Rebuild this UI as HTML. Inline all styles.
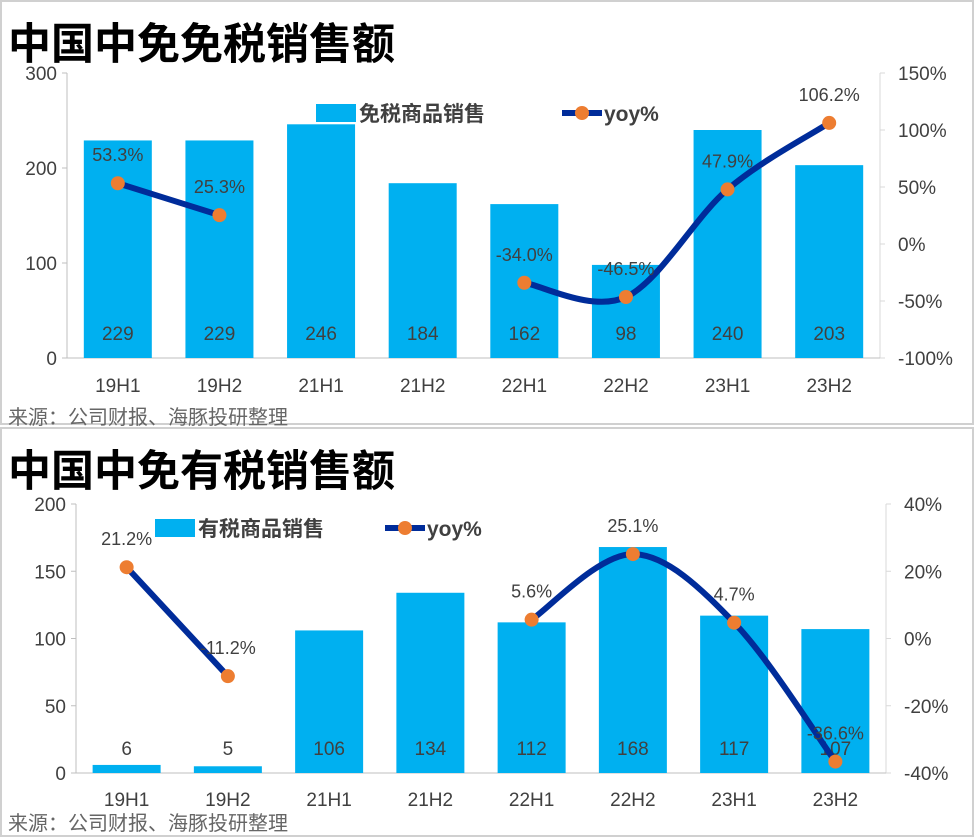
<!DOCTYPE html>
<html><head><meta charset="utf-8">
<style>
body{margin:0;background:#fff;}
svg{display:block;font-family:"Liberation Sans","Noto Sans CJK SC",sans-serif;}
</style></head>
<body>
<svg id="s" width="975" height="837" viewBox="0 0 975 837">
<rect x="1" y="1" width="972" height="423" fill="#fff" stroke="#d0d0d0" stroke-width="2"/>
<rect x="1" y="428" width="972" height="408" fill="#fff" stroke="#d0d0d0" stroke-width="2"/>
<text x="8" y="59" font-size="43" font-weight="bold" fill="#000">中国中免免税销售额</text>
<text x="8" y="486" font-size="43" font-weight="bold" fill="#000">中国中免有税销售额</text>
<text x="8" y="424" font-size="20" fill="#666">来源：公司财报、海豚投研整理</text>
<text x="8" y="830" font-size="20" fill="#666">来源：公司财报、海豚投研整理</text>
<g id="c1"></g><g id="c2"></g>
</svg>
<script>
const categories = ["19H1","19H2","21H1","21H2","22H1","22H2","23H1","23H2"];
const dutyFree = [229,229,246,184,162,98,240,203];
const dutyFreeYoy = [53.3,25.3,null,null,-34.0,-46.5,47.9,106.2];
const dutyPaid = [6,5,106,134,112,168,117,107];
const dutyPaidYoy = [21.2,-11.2,null,null,5.6,25.1,4.7,-36.6];
const leftTicks1 = [0,100,200,300];
const rightTicks1 = [-100,-50,0,50,100,150];
const leftTicks2 = [0,50,100,150,200];
const rightTicks2 = [-40,-20,0,20,40];

const NS="http://www.w3.org/2000/svg";
function mk(p,tag,a){const e=document.createElementNS(NS,tag);for(const k in a)e.setAttribute(k,a[k]);p.appendChild(e);return e;}
function smooth(pts){
  let d="M"+pts[0][0]+","+pts[0][1];
  for(let i=0;i<pts.length-1;i++){
    const p0=pts[i-1]||pts[i],p1=pts[i],p2=pts[i+1],p3=pts[i+2]||p2;
    const c1=[p1[0]+(p2[0]-p0[0])/6,p1[1]+(p2[1]-p0[1])/6];
    const c2=[p2[0]-(p3[0]-p1[0])/6,p2[1]-(p3[1]-p1[1])/6];
    d+=" C"+c1[0]+","+c1[1]+" "+c2[0]+","+c2[1]+" "+p2[0]+","+p2[1];
  }
  return d;
}
function draw(g,cfg){
  const {x0,x1,yTop,yBot,lmin,lmax,rmin,rmax,bars,yoy,lt,rt,legX,legY,legName,legLineX,xLabY,valY}=cfg;
  const step=(x1-x0)/categories.length;
  const xs=i=>x0+step*(i+0.5);
  const yl=v=>yBot-(v-lmin)/(lmax-lmin)*(yBot-yTop);
  const yr=v=>yBot-(v-rmin)/(rmax-rmin)*(yBot-yTop);
  let e;
  e=mk(g,"line",{x1:x0,y1:yTop,x2:x0,y2:yBot,stroke:"#bfbfbf"});
  
  
  e=mk(g,"line",{x1:x1,y1:yTop,x2:x1,y2:yBot,stroke:"#d9d9d9"});
  
  
  e=mk(g,"line",{x1:x0,y1:yBot,x2:x1,y2:yBot,stroke:"#bfbfbf"});
  
  
  lt.forEach(v=>{
    e=mk(g,"text",{x:x0-10,y:yl(v)+7,"font-size":19,fill:"#404040","text-anchor":"end"});e.textContent=v;
    
    
    mk(g,"line",{x1:x0-5,y1:yl(v),x2:x0,y2:yl(v),stroke:"#bfbfbf"});
  });
  rt.forEach(v=>{
    e=mk(g,"text",{x:x1+18,y:yr(v)+7,"font-size":19,fill:"#404040"});e.textContent=v+"%";
    
    
    mk(g,"line",{x1:x1,y1:yr(v),x2:x1+5,y2:yr(v),stroke:"#d9d9d9"});
  });
  const bw=68;
  bars.forEach((v,i)=>{
    e=mk(g,"rect",{x:xs(i)-bw/2,y:yl(v),width:bw,height:yBot-yl(v),fill:"#00b0f0"});
    
    
    e=mk(g,"text",{x:xs(i),y:valY,"font-size":19,fill:"#404040","text-anchor":"middle"});e.textContent=v;
    
    
    e=mk(g,"text",{x:xs(i),y:xLabY,"font-size":19,fill:"#404040","text-anchor":"middle"});e.textContent=categories[i];
    
    
  });
  let segs=[],cur=[];
  yoy.forEach((v,i)=>{if(v===null){if(cur.length)segs.push(cur);cur=[];}else cur.push([xs(i),yr(v)]);});
  if(cur.length)segs.push(cur);
  segs.forEach(s=>{
    e=mk(g,"path",{d:smooth(s),fill:"none",stroke:"#002c9a","stroke-width":6,"stroke-linecap":"round"});
    
    
  });
  yoy.forEach((v,i)=>{
    if(v===null)return;
    e=mk(g,"circle",{cx:xs(i),cy:yr(v),r:7,fill:"#ed7d31"});
    
    
    e=mk(g,"text",{x:xs(i),y:yr(v)-22,"font-size":18,fill:"#404040","text-anchor":"middle"});
    e.textContent=v.toFixed(1)+"%";
    
    
  });
  e=mk(g,"rect",{x:legX,y:legY-9,width:40,height:18,fill:"#00b0f0"});
  
  
  e=mk(g,"text",{x:legX+43,y:legY+8,"font-size":21,"font-weight":"bold",fill:"#404040"});e.textContent=legName;
  
  
  e=mk(g,"line",{x1:legLineX,y1:legY,x2:legLineX+40,y2:legY,stroke:"#002c9a","stroke-width":6});
  
  
  mk(g,"circle",{cx:legLineX+20,cy:legY,r:7,fill:"#ed7d31"});
  e=mk(g,"text",{x:legLineX+42,y:legY+8,"font-size":21,"font-weight":"bold",fill:"#404040"});e.textContent="yoy%";
  
  
}
draw(document.getElementById("c1"),{x0:67,x1:880,yTop:73,yBot:358,lmin:0,lmax:300,rmin:-100,rmax:150,
  bars:dutyFree,yoy:dutyFreeYoy,lt:leftTicks1,rt:rightTicks1,legX:316,legY:113,legName:"免税商品销售",legLineX:562,xLabY:392,valY:340});
draw(document.getElementById("c2"),{x0:76,x1:886,yTop:504,yBot:773,lmin:0,lmax:200,rmin:-40,rmax:40,
  bars:dutyPaid,yoy:dutyPaidYoy,lt:leftTicks2,rt:rightTicks2,legX:155,legY:528,legName:"有税商品销售",legLineX:385,xLabY:806,valY:755});
</script>
</body></html>
